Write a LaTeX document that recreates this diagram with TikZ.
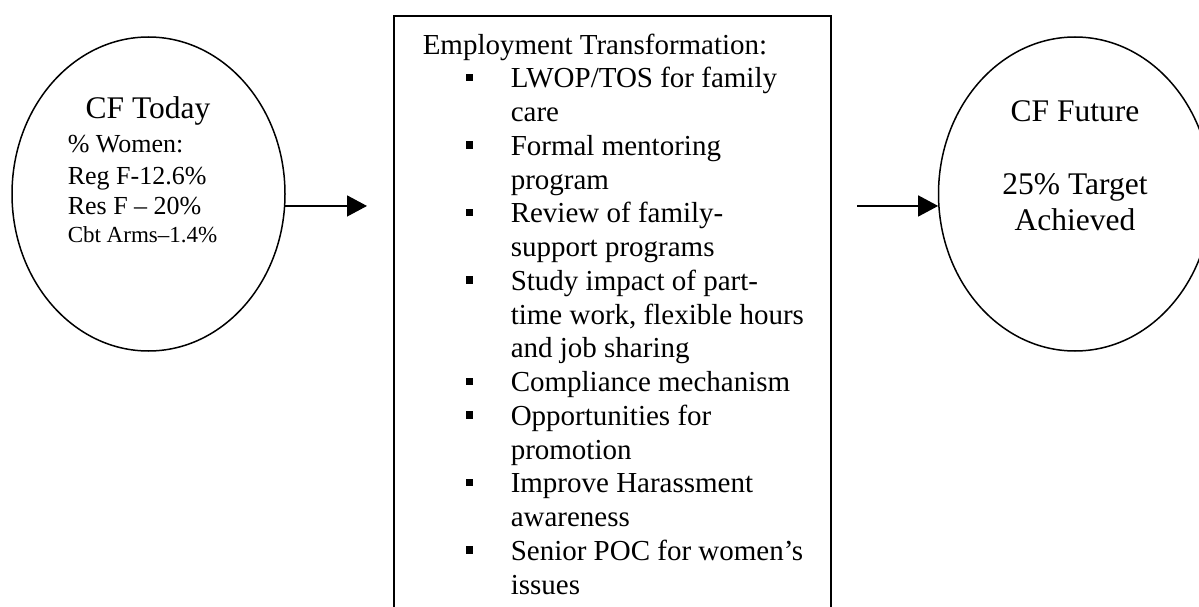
\documentclass[tikz,border=0pt]{standalone}
\usepackage{fontspec}
\setmainfont{Liberation Serif}
\usetikzlibrary{shapes.geometric,arrows.meta}
\newcommand{\sqbul}{\hspace*{43pt}\makebox[45pt][l]{\rule[6.5pt]{7.5pt}{7.5pt}}}
\newcommand{\wrapind}{\hspace*{88pt}}

\begin{document}
\begin{tikzpicture}[x=1pt,y=-1pt,line width=1.5pt,
  state/.style={draw,ellipse,minimum width=273pt,minimum height=314pt,inner sep=0pt},
  flow/.style={-{Triangle[length=20pt,width=21pt]},line width=1.5pt},
  big/.style={font=\fontsize{31.5}{36.5}\selectfont,inner sep=0pt,align=center,anchor=base},
  small/.style={font=\fontsize{26}{30}\selectfont,inner sep=0pt,anchor=base west}]
\clip (0,0) rectangle (1199,607);

% the two states and the box between them
\node[state](today) at (148.5,194) {};
\node[state](future) at (1075,194) {};
\node[draw,line width=1.8pt,minimum width=437pt,minimum height=640pt,anchor=north west](plan) at (393,15) {};

\node[big](todaytitle) at (148,119) {CF Today};
\node[small](women) at (67,153) {\% Women:};
\node[small](regf) at (67,184) {Reg F-12.6\%};
\node[small](resf) at (67,214) {Res F -- 20\%};
\node[small,font=\fontsize{23}{27}\selectfont](cbt) at (67,242) {Cbt Arms--1.4\%};

% multi-line nodes sit on the baseline of their last line
\node[big](futuretitle) at (1075,230.5) {CF Future\\[36.5pt]25\% Target\\Achieved};

\node[inner sep=0pt,anchor=base west,align=left,font=\fontsize{29}{33.75}\selectfont](items) at (422,594) {%
Employment Transformation:\\
\sqbul LWOP/TOS for family\\
\wrapind care\\
\sqbul Formal mentoring\\
\wrapind program\\
\sqbul Review of family-\\
\wrapind support programs\\
\sqbul Study impact of part-\\
\wrapind time work, flexible hours\\
\wrapind and job sharing\\
\sqbul Compliance mechanism\\
\sqbul Opportunities for\\
\wrapind promotion\\
\sqbul Improve Harassment\\
\wrapind awareness\\
\sqbul Senior POC for women's\\
\wrapind issues};

% arrows
\coordinate (in1) at (367,207);
\coordinate (out2) at (857,207);
\draw[flow] (today.-5.5) -- (today.-5.5 -| in1);
\draw[flow] (future.185.5 -| out2) -- (future.185.5);
\end{tikzpicture}
\end{document}
